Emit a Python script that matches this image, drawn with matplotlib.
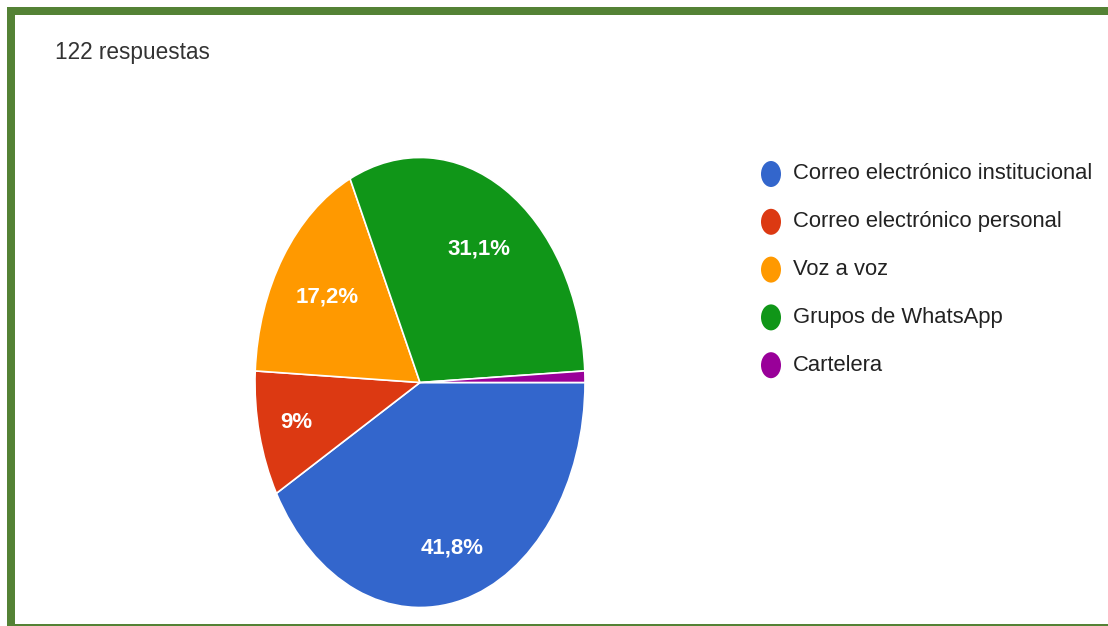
import numpy as np
import matplotlib
matplotlib.use('Agg')
import matplotlib.pyplot as plt
from matplotlib.patches import Rectangle, Ellipse

# survey answers: how people hear about announcements
categories = ['Correo electrónico institucional', 'Correo electrónico personal',
              'Voz a voz', 'Grupos de WhatsApp', 'Cartelera']
counts = [51, 11, 21, 38, 1]
colors = ['#3366cc', '#dc3912', '#ff9900', '#109618', '#990099']
total_label = '122 respuestas'

W, H = 1108, 626
plt.rcParams['font.family'] = ['Liberation Sans', 'DejaVu Sans']

fig = plt.figure(figsize=(W / 100, H / 100), dpi=100)
fig.patch.set_facecolor('white')


def px(x, y):
    # pixel coords (top-left origin) -> figure fraction
    return x / W, 1 - y / H


def pct_label(p):
    if p < 1:
        return ''
    s = f'{p:.1f}'
    if s.endswith('.0'):
        s = s[:-2]
    return s.replace('.', ',') + '%'


# frame around the card
border = '#548235'
for x0, y0, x1, y1 in [(7, 7, W, 15), (7, 7, 15, H), (7, 624, W, 626)]:
    fx, fy = px(x0, y1)
    fig.add_artist(Rectangle((fx, fy), (x1 - x0) / W, (y1 - y0) / H,
                             transform=fig.transFigure, color=border, lw=0))

fig.text(*px(55, 52), total_label, fontsize=16.3, color='#333333', va='center')

# pie axes, stretched vertically
cx, cy, rx, ry = 420, 382.5, 165, 225
l, b = px(cx - rx, cy + ry)
ax = fig.add_axes([l, b, 2 * rx / W, 2 * ry / H])
wedges, texts, autotexts = ax.pie(counts, colors=colors, startangle=0, counterclock=False,
                                  autopct=pct_label, pctdistance=0.72,
                                  wedgeprops=dict(edgecolor='white', linewidth=1.2),
                                  textprops=dict(color='white', fontsize=16, fontweight='bold'))
ax.set_aspect('auto')
ax.set_xlim(-1, 1)
ax.set_ylim(-1, 1)

# nudge labels along their wedge bisector
dist = [0.76, 0.77, 0.68, 0.69, 0.7]
for w, t, d in zip(wedges, autotexts, dist):
    ang = np.deg2rad((w.theta1 + w.theta2) / 2)
    t.set_position((d * np.cos(ang), d * np.sin(ang)))

# legend
leg_x, leg_y0, leg_step = 771, 174, 47.8
for i, (name, c) in enumerate(zip(categories, colors)):
    yy = leg_y0 + i * leg_step
    ex, ey = px(leg_x, yy)
    fig.add_artist(Ellipse((ex, ey), 20 / W, 26 / H, transform=fig.transFigure,
                           color=c, lw=0))
    fig.text(*px(793, yy), name, fontsize=15.8, color='#222222', va='center')

fig.savefig('out.png', dpi=100)
